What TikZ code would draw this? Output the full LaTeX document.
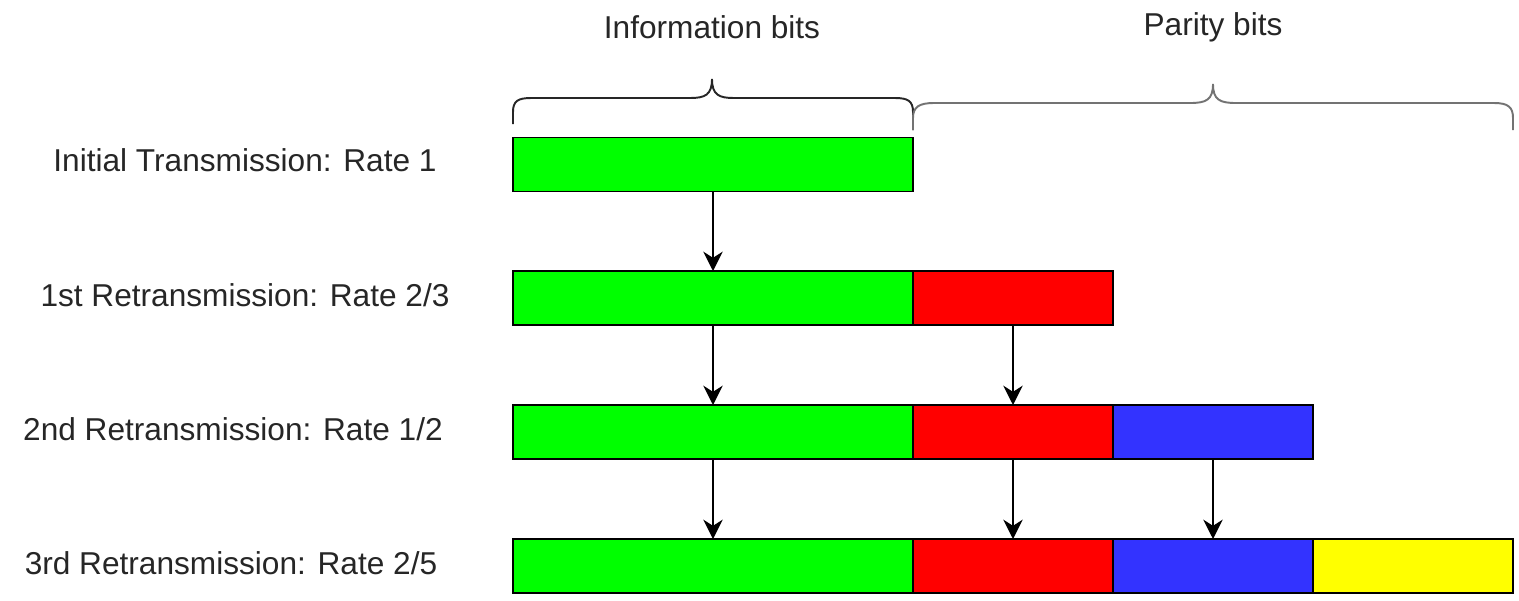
\documentclass[tikz,border=0pt]{standalone}
\usepackage{fontspec}
\setmainfont{Liberation Sans}
\usetikzlibrary{arrows.meta}
\definecolor{infogreen}{HTML}{00FF00}
\definecolor{parred}{HTML}{FF0000}
\definecolor{parblue}{HTML}{3333FF}
\definecolor{paryellow}{HTML}{FFFF00}
\tikzset{
  seg/.style={draw=black, line width=1.1pt, minimum height=54*0.02cm, inner sep=0pt, outer sep=0pt},
  wide/.style={seg, minimum width=400*0.02cm},
  half/.style={seg, minimum width=200*0.02cm},
  lbl/.style={font=\fontsize{18}{21}\selectfont, text=black!85, inner sep=0pt},
  hdr/.style={font=\fontsize{18}{21}\selectfont, text=black!85, inner sep=0pt},
  flow/.style={line width=1.1pt, -{Stealth[length=11pt, width=11pt, inset=3.5pt]}},
  brace/.style={line width=1.1pt}
}
\begin{document}
\begin{tikzpicture}[x=0.02cm, y=-0.02cm]
\useasboundingbox (0,0) rectangle (1519,600);

% headers
\node[hdr] (hinfo) at (712,27) {Information bits};
\node[hdr] (hpar) at (1213,27) {Parity bits};

% information-bits brace
\draw[brace, black!85] (513,124) -- (513,112)
  .. controls (513,101) and (518,98) .. (531,98) -- (690,98)
  .. controls (705,98) and (712,95) .. (712,79)
  .. controls (712,95) and (719,98) .. (734,98) -- (895,98)
  .. controls (908,98) and (913,101) .. (913,112) -- (913,130);

% parity-bits brace
\draw[brace, black!55] (913,130) -- (913,118)
  .. controls (913,107) and (919,103) .. (934,103) -- (1190,103)
  .. controls (1206,103) and (1213,100) .. (1213,84)
  .. controls (1213,100) and (1220,103) .. (1236,103) -- (1494,103)
  .. controls (1508,103) and (1513,107) .. (1513,118) -- (1513,130);

% row labels
\node[lbl] (l1) at (245,160) {Initial Transmission: Rate 1};
\node[lbl] (l2) at (245,295) {1st Retransmission: Rate 2/3};
\node[lbl] (l3) at (233,429) {2nd Retransmission: Rate 1/2};
\node[lbl] (l4) at (231,563) {3rd Retransmission: Rate 2/5};

% row 1
\node[wide, fill=infogreen] (g1) at (713,164.5) {};
% row 2
\node[wide, fill=infogreen] (g2) at (713,298) {};
\node[half, fill=parred] (r2) at (1013,298) {};
% row 3
\node[wide, fill=infogreen] (g3) at (713,432) {};
\node[half, fill=parred] (r3) at (1013,432) {};
\node[half, fill=parblue] (b3) at (1213,432) {};
% row 4
\node[wide, fill=infogreen] (g4) at (713,566) {};
\node[half, fill=parred] (r4) at (1013,566) {};
\node[half, fill=parblue] (b4) at (1213,566) {};
\node[half, fill=paryellow] (y4) at (1413,566) {};

% retransmission arrows
\draw[flow] (g1.south) -- (g2.north);
\draw[flow] (g2.south) -- (g3.north);
\draw[flow] (r2.south) -- (r3.north);
\draw[flow] (g3.south) -- (g4.north);
\draw[flow] (r3.south) -- (r4.north);
\draw[flow] (b3.south) -- (b4.north);
\end{tikzpicture}
\end{document}
